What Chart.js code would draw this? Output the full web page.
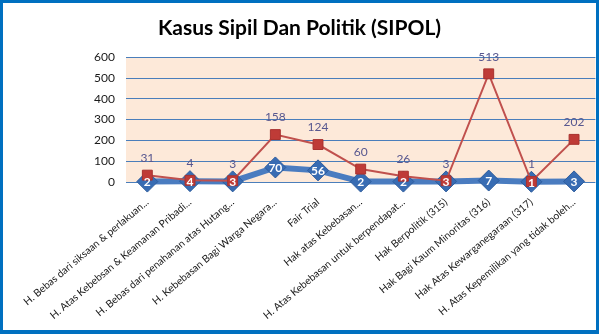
<!DOCTYPE html>
<html>
<head>
<meta charset="utf-8">
<title>Kasus Sipil Dan Politik (SIPOL)</title>
<script src="https://cdn.jsdelivr.net/npm/chart.js@4"></script>
<style>
  html, body { margin: 0; padding: 0; background: #fff; }
  #frame {
    width: 599px; height: 334px; box-sizing: border-box;
    border: 3px solid #0070c0; border-bottom-width: 4px;
  }
  canvas { display: block; }
</style>
</head>
<body>
<div id="frame"><canvas id="sipolChart" width="593" height="327"></canvas></div>
<script>
// Kategori hak sipil & politik
const kategori = [
  'H. Bebas dari siksaan & perlakuan...',
  'H. Atas Kebebsan & Keamanan Pribadi...',
  'H. Bebas dari penahanan atas Hutang...',
  'H. Kebebasan Bagi Warga Negara...',
  'Fair Trial',
  'Hak atas Kebebasan...',
  'H. Atas Kebebasan untuk berpendapat...',
  'Hak Berpolitik (315)',
  'Hak Bagi Kaum Minoritas (316)',
  'Hak Atas Kewarganegaraan (317)',
  'H. Atas Kepemilikan yang tidak boleh...'
];

// jumlah kasus per seri (ditumpuk: biru di bawah, merah di atas)
const kasusBiru = [2, 4, 3, 70, 56, 2, 2, 3, 7, 1, 3];
const kasusMerah = [31, 4, 3, 158, 124, 60, 26, 3, 513, 1, 202];

const sumbuY = { min: 0, max: 600, step: 100 };

const FONT = 'Lato, "Open Sans", sans-serif';

// latar area plot
const plotBg = {
  id: 'plotBg',
  beforeDraw(chart) {
    const { ctx, chartArea: a } = chart;
    ctx.save();
    ctx.fillStyle = '#fde9d9';
    ctx.fillRect(a.left, a.top, a.right - a.left, a.bottom - a.top);
    ctx.restore();
  }
};

// gambar biru dulu, merah di atasnya (tanpa clip)
const urutanGambar = {
  id: 'urutanGambar',
  beforeDatasetsDraw(chart) {
    chart.getDatasetMeta(0).controller.draw();
    chart.getDatasetMeta(1).controller.draw();
    return false;
  }
};

// label nilai
const labelNilai = {
  id: 'labelNilai',
  afterDraw(chart) {
    const ctx = chart.ctx;
    ctx.save();
    ctx.textAlign = 'center';
    ctx.textBaseline = 'middle';

    const merah = chart.getDatasetMeta(1);
    ctx.font = '12px ' + FONT;
    ctx.fillStyle = '#57578f';
    merah.data.forEach((pt, i) => {
      ctx.fillText(chart.data.datasets[1].data[i], pt.x, pt.y - 17);
    });

    const biru = chart.getDatasetMeta(0);
    ctx.font = 'bold 12px ' + FONT;
    ctx.fillStyle = '#ffffff';
    biru.data.forEach((pt, i) => {
      ctx.fillText(chart.data.datasets[0].data[i], pt.x, pt.y + 1);
    });
    ctx.restore();
  }
};

const ctx = document.getElementById('sipolChart');
new Chart(ctx, {
  type: 'line',
  data: {
    labels: kategori,
    datasets: [
      {
        label: 'Biru',
        data: kasusBiru,
        borderColor: '#4a7cc0',
        borderWidth: 6,
        pointStyle: 'rectRot',
        pointRadius: 10.5,
        pointBackgroundColor: '#386cb3',
        pointBorderColor: '#2d5c9c',
        pointBorderWidth: 1,
        tension: 0,
        clip: false
      },
      {
        label: 'Merah',
        data: kasusMerah,
        borderColor: '#c0504d',
        borderWidth: 2,
        pointStyle: 'rect',
        pointRadius: 7,
        pointBackgroundColor: '#bf3b37',
        pointBorderColor: '#a8322f',
        pointBorderWidth: 1,
        tension: 0,
        clip: false
      }
    ]
  },
  options: {
    responsive: false,
    animation: false,
    layout: { padding: 0, autoPadding: false },
    plugins: {
      legend: { display: false },
      tooltip: { enabled: false },
      title: {
        display: true,
        text: 'Kasus Sipil Dan Politik (SIPOL)',
        color: '#000',
        font: { family: FONT, size: 21, weight: 'bold' },
        padding: { top: 13, bottom: 16 }
      }
    },
    scales: {
      x: {
        offset: true,
        grid: { display: false, drawTicks: false },
        border: { display: false },
        ticks: {
          autoSkip: false,
          minRotation: 40,
          maxRotation: 40,
          padding: 14,
          color: '#1a1a1a',
          font: { family: FONT, size: 10.3 }
        },
        afterFit(scale) { scale.height = 148; }
      },
      y: {
        stacked: true,
        min: sumbuY.min,
        max: sumbuY.max,
        grid: { color: '#4a7ebb', lineWidth: 1, drawTicks: false },
        border: { display: false },
        ticks: {
          stepSize: sumbuY.step,
          padding: 11,
          color: '#1a1a1a',
          font: { family: FONT, size: 12 }
        },
        afterFit(scale) { scale.width = 123; }
      }
    }
  },
  plugins: [plotBg, urutanGambar, labelNilai]
});
</script>
</body>
</html>
